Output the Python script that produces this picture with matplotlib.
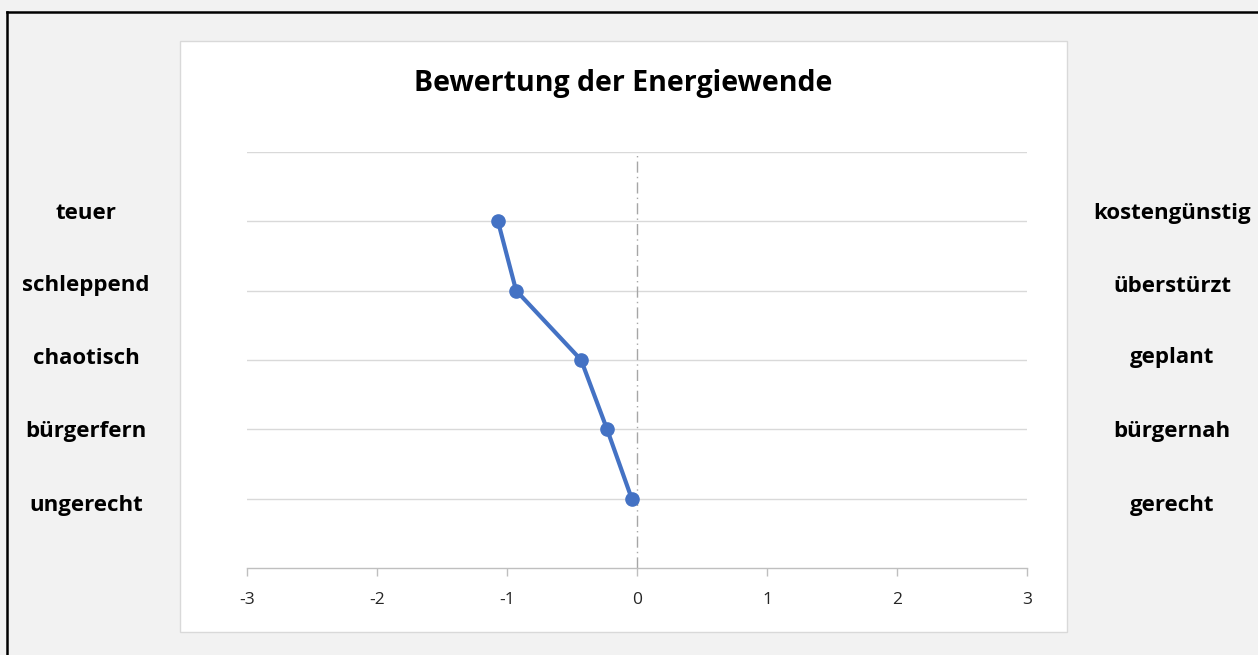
import matplotlib
matplotlib.use("Agg")
import matplotlib.pyplot as plt
from matplotlib.patches import Rectangle
from matplotlib.lines import Line2D

# Semantic differential: mean rating per item pair
left_terms = ["teuer", "schleppend", "chaotisch", "bürgerfern", "ungerecht"]
right_terms = ["kostengünstig", "überstürzt", "geplant", "bürgernah", "gerecht"]
ratings = [-1.07, -0.93, -0.43, -0.23, -0.04]
levels = [5, 4, 3, 2, 1]
x_ticks = [-3, -2, -1, 0, 1, 2, 3]
title = "Bewertung der Energiewende"

W, H = 1258, 655
fig = plt.figure(figsize=(W / 100, H / 100), dpi=100)
fig.patch.set_facecolor("#f2f2f2")

FONT = ["Open Sans", "DejaVu Sans"]

def fx(px):
    return px / W

def fy(py):
    return 1 - py / H

# outer frame (top and left edges)
fig.add_artist(Line2D([fx(7), 1.0], [fy(12), fy(12)], color="black", lw=1.8, zorder=0.2))
fig.add_artist(Line2D([fx(7), fx(7)], [fy(12), 0.0], color="black", lw=1.8, zorder=0.2))

# white chart panel
fig.add_artist(Rectangle((fx(180), fy(632)), fx(1067) - fx(180), fy(41) - fy(632),
                         facecolor="white", edgecolor="#d9d9d9", lw=1.0, zorder=0.1))

ax = fig.add_axes([fx(247), fy(568.3), fx(1027) - fx(247), fy(151.6) - fy(568.3)])
ax.set_zorder(2)
ax.set_facecolor("none")
ax.set_xlim(-3, 3)
ax.set_ylim(0, 6)

for lv in range(1, 7):
    ax.axhline(lv, color="#d9d9d9", lw=1.0, zorder=1)
ax.plot([0, 0], [0, 6], color="#a6a6a6", lw=1.0, linestyle=(0, (8, 3, 1, 3)), zorder=1.5)

ax.plot(ratings, levels, color="#4472c4", lw=3.0, marker="o", markersize=9.5,
        markerfacecolor="#4472c4", markeredgecolor="#4472c4", zorder=3)

for side in ["top", "right", "left"]:
    ax.spines[side].set_visible(False)
ax.spines["bottom"].set_color("#bfbfbf")
ax.spines["bottom"].set_linewidth(1.0)
ax.set_yticks([])
ax.set_xticks(x_ticks)
ax.set_xticklabels([str(t) for t in x_ticks], fontfamily=FONT, fontsize=12.5, color="#262626")
ax.tick_params(axis="x", direction="out", length=6, width=1.0, color="#bfbfbf", pad=11)

fig.text(fx(623), fy(83), title, ha="center", va="center", fontsize=20.5,
         fontweight="bold", family=FONT, color="black")

label_rows = [213, 286, 358, 432, 505]
for row, lt, rt in zip(label_rows, left_terms, right_terms):
    fig.text(fx(86), fy(row), lt, ha="center", va="center", fontsize=16,
             fontweight="bold", family=FONT, color="black")
    fig.text(fx(1172), fy(row), rt, ha="center", va="center", fontsize=16,
             fontweight="bold", family=FONT, color="black")

fig.savefig("out.png", dpi=100, facecolor=fig.get_facecolor())
